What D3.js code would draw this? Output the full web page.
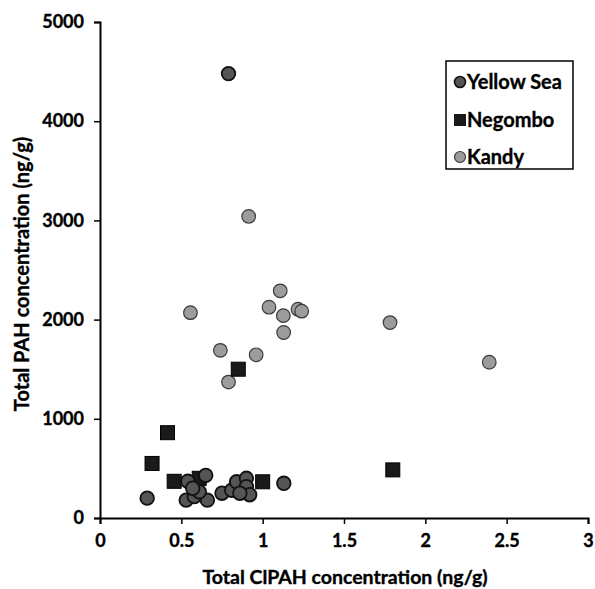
<!DOCTYPE html>
<html><head><meta charset="utf-8">
<script src="https://cdn.jsdelivr.net/npm/d3@7/dist/d3.min.js"></script>
<style>body{margin:0;background:#fff}svg{display:block}text{font-family:Lato,"Open Sans",sans-serif;font-weight:bold;stroke:#000;stroke-width:0.35px;fill:#000}</style>
</head><body><svg id="c" width="595" height="589"></svg>
<script>
const xTicks = [0, 0.5, 1, 1.5, 2, 2.5, 3];
const yTicks = [0, 1000, 2000, 3000, 4000, 5000];
const seriesNames = ["Yellow Sea", "Negombo", "Kandy"];
const yellowSeaX = [0.79, 0.29, 1.13, 0.54, 0.53, 0.58, 0.66, 0.61, 0.57, 0.65, 0.75, 0.81, 0.84, 0.90, 0.90, 0.92, 0.86];
const yellowSeaY = [4480, 200, 350, 370, 180, 215, 180, 265, 300, 430, 250, 280, 365, 400, 315, 235, 250];
const negomboX = [0.85, 0.415, 0.32, 0.456, 0.61, 1.0, 1.80];
const negomboY = [1500, 860, 550, 370, 400, 365, 485];
const kandyX = [0.914, 1.108, 1.039, 1.127, 1.217, 1.24, 1.129, 0.556, 0.74, 0.96, 0.79, 1.783, 2.393];
const kandyY = [3040, 2290, 2125, 2040, 2105, 2085, 1870, 2070, 1690, 1645, 1370, 1970, 1570];

const svg = d3.select("#c");
const x = d3.scaleLinear().domain([0, 3]).range([100, 588]);
const y = d3.scaleLinear().domain([0, 5000]).range([518, 22]);

const gx = svg.append("g").attr("transform", "translate(0,518)")
  .call(d3.axisBottom(x).tickValues(xTicks).tickSize(6).tickPadding(10).tickFormat(d3.format("")));
const gy = svg.append("g").attr("transform", "translate(100,0)")
  .call(d3.axisLeft(y).tickValues(yTicks).tickSize(6).tickPadding(10).tickFormat(d3.format("")));
[gx, gy].forEach(g => {
  g.select(".domain").attr("stroke", "#000").attr("stroke-width", 2);
  g.selectAll(".tick line").attr("stroke", "#000").attr("stroke-width", 1.5);
  g.selectAll(".tick text").attr("fill", "#000").style("font-size", "18px").style("font-family", "Lato, sans-serif").style("font-weight", "bold");
});

svg.append("text").attr("x", 345).attr("y", 584).attr("text-anchor", "middle")
  .style("font-size", "19.5px").text("Total ClPAH concentration (ng/g)");
svg.append("text").attr("transform", "translate(29,274) rotate(-90)").attr("text-anchor", "middle")
  .style("font-size", "20px").text("Total PAH concentration (ng/g)");

const kandy = kandyX.map((v, i) => [v, kandyY[i]]);
const ys = yellowSeaX.map((v, i) => [v, yellowSeaY[i]]);
const neg = negomboX.map((v, i) => [v, negomboY[i]]);

svg.append("g").selectAll("circle").data(kandy).join("circle")
  .attr("cx", d => x(d[0])).attr("cy", d => y(d[1])).attr("r", 6.8)
  .attr("fill", "#9c9c9c").attr("stroke", "#3a3a3a").attr("stroke-width", 1.2);
svg.append("g").selectAll("rect").data(neg).join("rect")
  .attr("x", d => x(d[0]) - 7).attr("y", d => y(d[1]) - 7).attr("width", 14).attr("height", 14)
  .attr("fill", "#1a1a1a").attr("stroke", "#000").attr("stroke-width", 1);
svg.append("g").selectAll("circle").data(ys).join("circle")
  .attr("cx", d => x(d[0])).attr("cy", d => y(d[1])).attr("r", 6.8)
  .attr("fill", "#555").attr("stroke", "#111").attr("stroke-width", 1.8);

// legend
const lg = svg.append("g");
lg.append("rect").attr("x", 446).attr("y", 61).attr("width", 127).attr("height", 108)
  .attr("fill", "#fff").attr("stroke", "#000").attr("stroke-width", 1.5);
const ly = [82, 120, 157];
lg.append("circle").attr("cx", 460).attr("cy", ly[0]).attr("r", 5.5).attr("fill", "#555").attr("stroke", "#111").attr("stroke-width", 1.6);
lg.append("rect").attr("x", 454).attr("y", ly[1] - 6).attr("width", 12).attr("height", 12).attr("fill", "#1a1a1a");
lg.append("circle").attr("cx", 460).attr("cy", ly[2]).attr("r", 5.5).attr("fill", "#9c9c9c").attr("stroke", "#3a3a3a").attr("stroke-width", 1.2);
seriesNames.forEach((n, i) => {
  lg.append("text").attr("x", 467).attr("y", ly[i]).attr("dy", "0.36em")
    .style("font-size", "20px").text(n);
});
</script></body></html>
